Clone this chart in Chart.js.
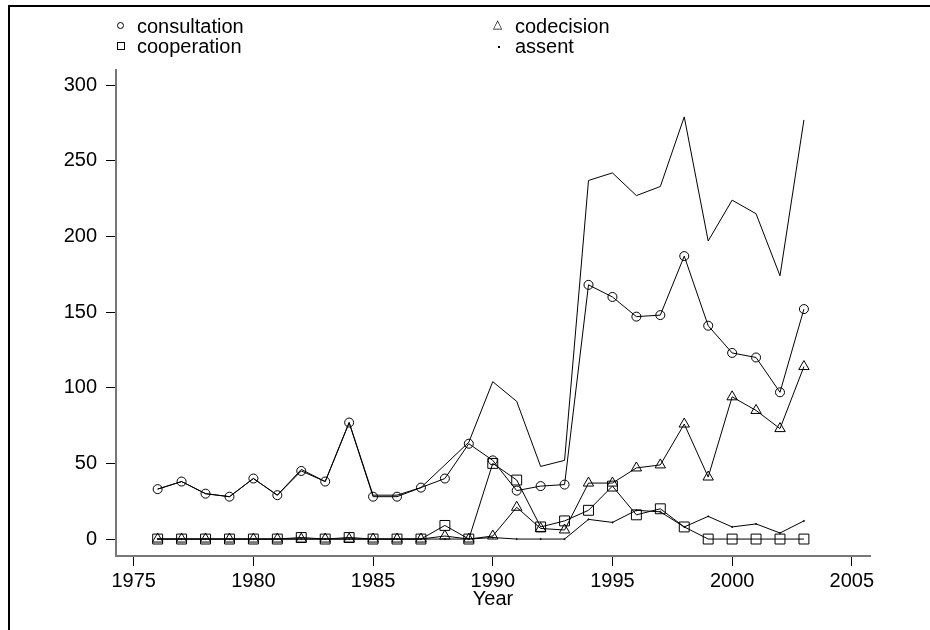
<!DOCTYPE html>
<html>
<head>
<meta charset="utf-8">
<script src="https://cdn.jsdelivr.net/npm/chart.js@4.4.1/dist/chart.umd.min.js"></script>
<style>
  html, body { margin: 0; padding: 0; background: #fff; overflow: hidden; }
  #wrap { position: relative; width: 930px; height: 630px; }
  #frame { position: absolute; left: 8px; top: 5px; width: 1000px; height: 1000px; border: 2px solid #000; box-sizing: border-box; }
  canvas { position: absolute; left: 0; top: 0; }
  .leg { position: absolute; font-family: 'Liberation Sans', Arial, sans-serif; font-size: 20px; color: #000; line-height: 20px; white-space: nowrap; }
  .sym { position: absolute; box-sizing: border-box; }
</style>
</head>
<body>
<div id="wrap">
  <div id="frame"></div>
  <canvas id="c" width="930" height="630"></canvas>
  <div class="sym" style="left:117px;top:22px;width:7px;height:7px;border:1px solid #000;border-radius:50%;"></div>
  <div class="leg" style="left:137px;top:16px;">consultation</div>
  <div class="sym" style="left:117px;top:42px;width:8px;height:8px;border:1px solid #000;"></div>
  <div class="leg" style="left:137px;top:36px;">cooperation</div>
  <div class="leg" style="left:493px;top:18px;font-size:12px;line-height:12px;">&#9651;</div>
  <div class="leg" style="left:515px;top:16px;">codecision</div>
  <div class="sym" style="left:498px;top:46px;width:2px;height:2px;background:#000;"></div>
  <div class="leg" style="left:515px;top:36px;">assent</div>
</div>
<script>
const years = [1976,1977,1978,1979,1980,1981,1982,1983,1984,1985,1986,1987,1988,1989,1990,1991,1992,1993,1994,1995,1996,1997,1998,1999,2000,2001,2002,2003];
const consultation = [33,38,30,28,40,29,45,38,77,28,28,34,40,63,52,32,35,36,168,160,147,148,187,141,123,120,97,152];
const codecision  = [0,0,0,0,0,0,0,0,0,0,0,0,2,0,2,21,7,6,37,37,47,49,76,41,94,85,73,114];
const cooperation = [0,0,0,0,0,0,1,0,1,0,0,0,9,0,50,39,8,12,19,35,16,20,8,0,0,0,0,0];
const assent      = [0,0,0,0,0,0,0,0,0,0,0,0,0,0,1,0,0,0,13,11,19,18,8,15,8,10,4,12];
const total       = [33,38,30,28,40,29,46,38,77,29,29,34,49,64,104,91,48,52,237,242,227,233,279,197,224,215,174,277];
const xTicks = [1975,1980,1985,1990,1995,2000,2005];
const yTicks = [0,50,100,150,200,250,300];

const pts = arr => years.map((y,i) => ({x:y, y:arr[i]}));
const base = { borderColor:'#000', borderWidth:1, tension:0, fill:false, pointBorderColor:'#000', pointBackgroundColor:'rgba(0,0,0,0)', pointBorderWidth:1 };
const font = { family:"'Liberation Sans', Arial, sans-serif", size:20 };

new Chart(document.getElementById('c'), {
  type:'line',
  data:{ datasets:[
    Object.assign({label:'total', data:pts(total), pointRadius:0}, base),
    Object.assign({label:'consultation', data:pts(consultation), pointStyle:'circle', pointRadius:4.5}, base),
    Object.assign({label:'codecision', data:pts(codecision), pointStyle:'triangle', pointRadius:6}, base),
    Object.assign({label:'cooperation', data:pts(cooperation), pointStyle:'rect', pointRadius:7}, base),
    Object.assign({label:'assent', data:pts(assent), pointStyle:'circle', pointRadius:0.6, pointBackgroundColor:'#000'}, base)
  ]},
  options:{
    responsive:false, animation:false, devicePixelRatio:1,
    layout:{ padding:{ top:70, right:60, left:0, bottom:0 } },
    plugins:{ legend:{display:false}, tooltip:{enabled:false} },
    scales:{
      x:{
        type:'linear', min:1974.26, max:2005.76,
        afterBuildTicks: s => { s.ticks = xTicks.map(v => ({value:v})); },
        afterFit: s => { s.height = 74; },
        ticks:{ font, color:'#000', padding:3, maxRotation:0, autoSkip:false, callback: v => String(v) },
        grid:{ drawOnChartArea:false, drawTicks:true, tickLength:10, tickColor:'#000', tickWidth:1 },
        border:{ display:true, color:'#777', width:2 },
        title:{ display:true, text:'Year', font, color:'#000', padding:{top:0, bottom:19} }
      },
      y:{
        type:'linear', min:-11.2, max:310,
        afterBuildTicks: s => { s.ticks = yTicks.map(v => ({value:v})); },
        afterFit: s => { s.width = 116; },
        ticks:{ font, color:'#000', padding:9, autoSkip:false, callback: v => String(v) },
        grid:{ drawOnChartArea:false, drawTicks:true, tickLength:10, tickColor:'#000', tickWidth:1 },
        border:{ display:true, color:'#777', width:2 }
      }
    }
  }
});
</script>
</body>
</html>
